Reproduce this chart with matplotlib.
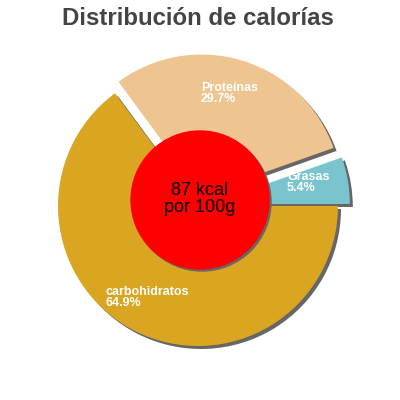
import matplotlib
matplotlib.use("Agg")
import matplotlib.pyplot as plt
from matplotlib.patches import Circle

plt.rcParams['font.family'] = ['Liberation Sans', 'DejaVu Sans']

title = "Distribución de calorías"
categories = ["carbohidratos", "Proteínas", "Grasas"]
percent = [64.9, 29.7, 5.4]
colors = ["#DAA520", "#EEC591", "#7AC5CD"]
center_text = "87 kcal\npor 100g"

explode = [0.0, 12.0, 12.0]   # data-unit offsets
cx, cy, R = 198, 206, 140

fig = plt.figure(figsize=(4, 4), dpi=100)
ax = fig.add_axes([0, 0, 1, 1])

# shadow
ax.pie(percent, radius=R, center=(cx + 3, cy + 3), startangle=0, counterclock=True,
       explode=explode, colors=["#666666"] * len(percent),
       wedgeprops=dict(linewidth=0))
wedges, _ = ax.pie(percent, radius=R, center=(cx, cy), startangle=0, counterclock=True,
                   explode=explode, colors=colors, wedgeprops=dict(linewidth=0))

ax.add_patch(Circle((202, 202), 69, color="#666666", zorder=5))
ax.add_patch(Circle((200, 200), 69, color="#FF0000", zorder=6))
ax.text(200, 199, center_text, ha='center', va='center', fontsize=13,
        color='black', zorder=7, linespacing=1.0)

label_pos = [(105, 286), (201, 82), (287, 171)]
for name, p, (x, y) in zip(categories, percent, label_pos):
    ax.text(x, y, f"{name}\n{p}%", ha='left', va='top', fontsize=9,
            fontweight='bold', color='white', linespacing=0.92, zorder=8)

ax.text(198, 25, title, ha='center', va='baseline', fontsize=17.3,
        fontweight='bold', color='#444444')

ax.set_xlim(0, 400)
ax.set_ylim(400, 0)
ax.set_aspect('equal')
ax.axis('off')
fig.savefig("out.png", dpi=100)
